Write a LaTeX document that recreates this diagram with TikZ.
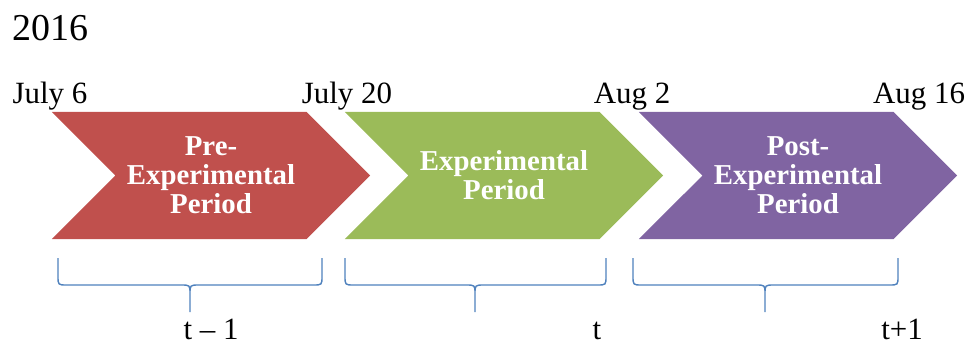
\documentclass[tikz,border=0pt]{standalone}
\usepackage{fontspec}
\setmainfont{Liberation Serif}
\usetikzlibrary{shapes.symbols,positioning}
\definecolor{prered}{HTML}{C0504D}
\definecolor{expgreen}{HTML}{9BBB59}
\definecolor{postpurple}{HTML}{8064A2}
\definecolor{braceblue}{HTML}{4F81BD}

\begin{document}
\begin{tikzpicture}[
    x=0.025cm, y=-0.025cm,
    phase/.style={signal, signal to=east, signal from=west, minimum width=7.95cm, minimum height=3.175cm,
        inner sep=0pt, text=white, align=center, font=\fontsize{20.5}{20.5}\selectfont\bfseries},
    date/.style={anchor=base, inner sep=0pt, font=\fontsize{22}{26}\selectfont},
    brace/.style={draw=braceblue, line width=1pt}
]
\useasboundingbox (0,0) rectangle (971,345);

\node[anchor=base west, inner sep=0pt, font=\fontsize{27}{30}\selectfont] (year) at (12,40) {2016};

% the three periods
\node[phase, fill=prered] (pre) at (211,175.5) {Pre-\\Experimental\\Period};
\node[phase, fill=expgreen] (exp) at (504,175.5) {Experimental\\Period};
\node[phase, fill=postpurple] (post) at (798,175.5) {Post-\\Experimental\\Period};

% dates
\node[date] (d1) at (50,103) {July 6};
\node[date] (d2) at (347,103) {July 20};
\node[date] (d3) at (632,103) {Aug 2};
\node[date] (d4) at (919,103) {Aug 16};

% braces
\foreach \a/\b/\m in {58/322/190, 345/606/475, 633/898/765}
    \draw[brace] (\a,258) -- (\a,276) .. controls (\a,285) .. (\a+9,285) -- (\m-9,285)
        .. controls (\m,285) .. (\m,294) -- (\m,312)
        (\m,294) .. controls (\m,285) .. (\m+9,285) -- (\b-9,285)
        .. controls (\b,285) .. (\b,276) -- (\b,258);

\node[date] (tm) at (211,339) {t -- 1};
\node[date] (t) at (597,339) {t};
\node[date] (tp) at (902,339) {t+1};
\end{tikzpicture}
\end{document}
